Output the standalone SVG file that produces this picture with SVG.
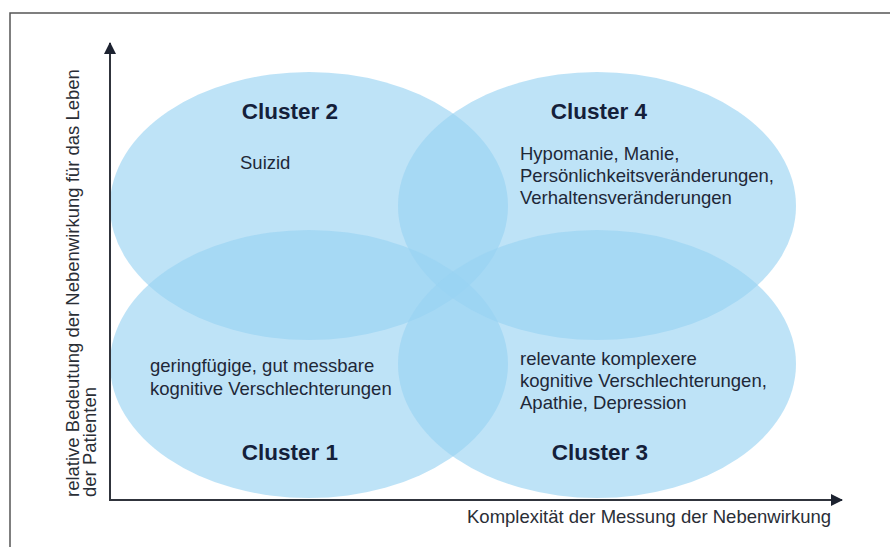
<svg xmlns="http://www.w3.org/2000/svg" width="890" height="547" viewBox="0 0 890 547">
<defs>
<style>
.ell{fill:#98d3f2;fill-opacity:0.63;stroke:none}
.title{font-family:"Liberation Sans",Arial,sans-serif;font-weight:bold;font-size:22.5px;fill:#14203a;text-anchor:middle}
.body{font-family:"Liberation Sans",Arial,sans-serif;font-size:18.5px;fill:#1e2838}
.axislabel{font-family:"Liberation Sans",Arial,sans-serif;font-size:18.5px;fill:#2a2e36}
.axis{stroke:#30343c;stroke-width:2;fill:none}
</style>
<marker id="arrow" viewBox="0 0 12 12" refX="11" refY="6" markerWidth="12" markerHeight="12" markerUnits="userSpaceOnUse" orient="auto">
<path d="M0,0 L12,6 L0,12 Z" fill="#1c2230"/>
</marker>
</defs>
<rect x="0" y="0" width="890" height="547" fill="#ffffff"/>
<rect x="10" y="13" width="900" height="560" fill="none" stroke="#555555" stroke-width="1.5"/>
<g id="cluster2">
<ellipse class="ell" cx="309" cy="206" rx="199" ry="134"/>
<text class="title" x="290" y="119">Cluster 2</text>
<text class="body" x="240" y="169">Suizid</text>
</g>
<g id="cluster4">
<ellipse class="ell" cx="597" cy="206" rx="199" ry="134"/>
<text class="title" x="599" y="119">Cluster 4</text>
<text class="body" x="520" y="160">Hypomanie, Manie,</text>
<text class="body" x="520" y="182">Persönlichkeitsveränderungen,</text>
<text class="body" x="520" y="204">Verhaltensveränderungen</text>
</g>
<g id="cluster1">
<ellipse class="ell" cx="309" cy="364" rx="199" ry="134"/>
<text class="body" x="150" y="372">geringfügige, gut messbare</text>
<text class="body" x="150" y="395">kognitive Verschlechterungen</text>
<text class="title" x="290" y="460">Cluster 1</text>
</g>
<g id="cluster3">
<ellipse class="ell" cx="597" cy="364" rx="199" ry="134"/>
<text class="body" x="520" y="365">relevante komplexere</text>
<text class="body" x="520" y="387">kognitive Verschlechterungen,</text>
<text class="body" x="520" y="409">Apathie, Depression</text>
<text class="title" x="600" y="460">Cluster 3</text>
</g>
<g id="connectors">
<line class="axis" x1="110" y1="500" x2="110" y2="43" marker-end="url(#arrow)"/>
<line class="axis" x1="109" y1="500" x2="842" y2="500" marker-end="url(#arrow)"/>
</g>
<g id="axis-labels">
<text class="axislabel" transform="translate(79,497) rotate(-90)">relative Bedeutung der Nebenwirkung für das Leben</text>
<text class="axislabel" transform="translate(96,497) rotate(-90)">der Patienten</text>
<text class="axislabel" x="467" y="523">Komplexität der Messung der Nebenwirkung</text>
</g>
</svg>
